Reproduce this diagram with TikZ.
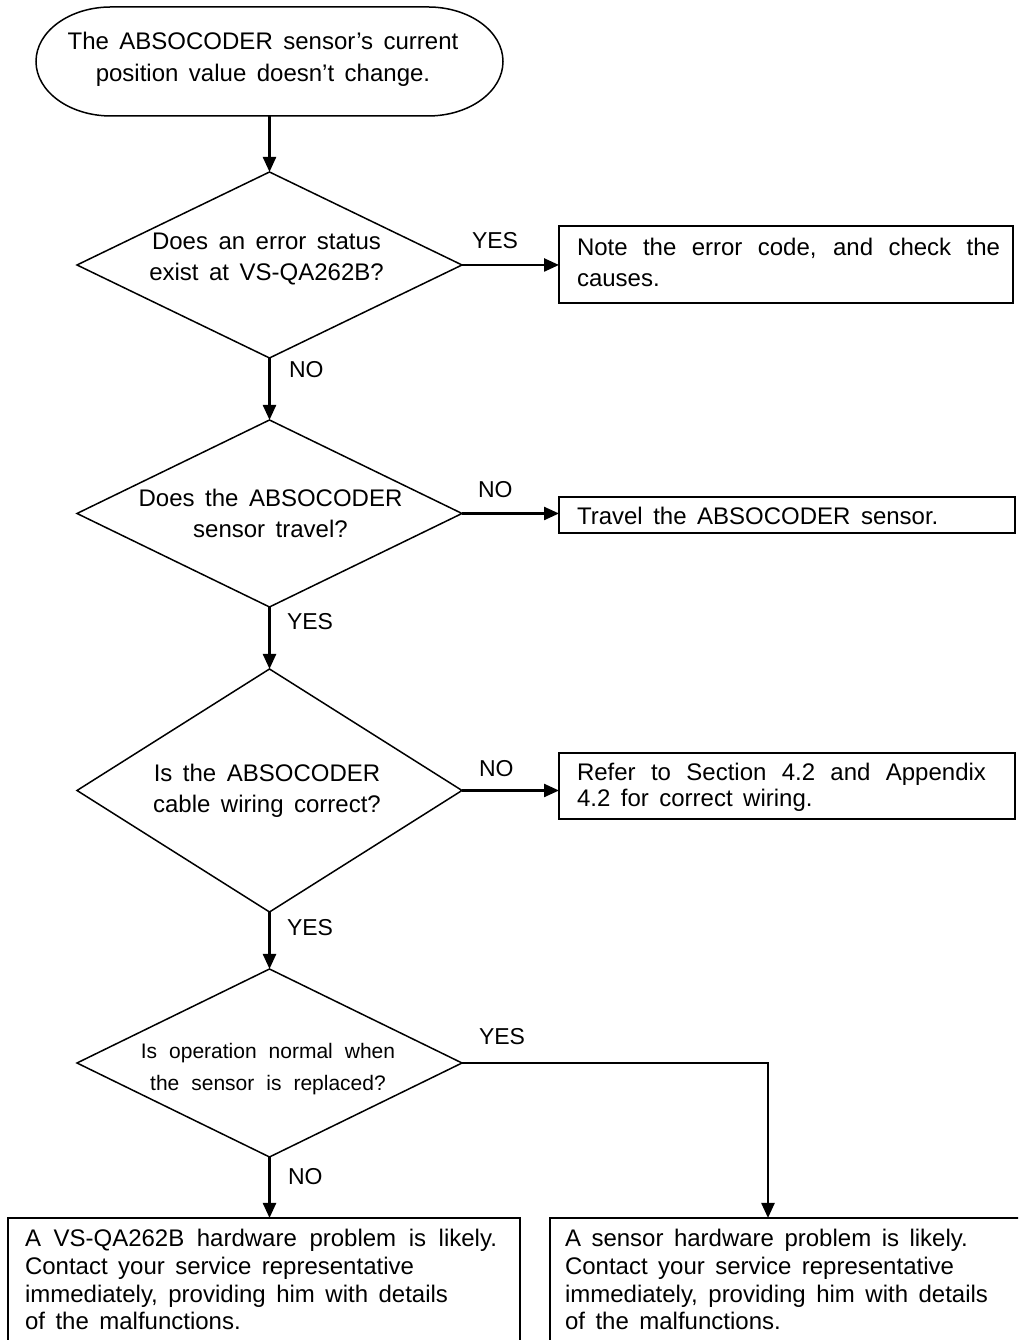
\documentclass[tikz,border=0pt]{standalone}
\usepackage{fontspec}
\setmainfont{Liberation Sans}
\usetikzlibrary{arrows.meta}
\newcommand\widesp{\spaceskip=10.5pt plus 8pt minus 3pt\relax}
\newcommand\narrowsp{\spaceskip=12pt plus 6pt minus 3pt\relax}
\tikzset{
  every node/.style={inner sep=0pt, outer sep=0pt},
  shapeline/.style={draw=black, line width=1.5pt},
  boxnode/.style={shapeline, rectangle, line width=1.8pt},
  holder/.style={draw=none, rectangle},
  conn/.style={line width=2.4pt, -{Triangle[length=15pt,width=13pt]}},
  ltxt/.style={font=\fontsize{24}{27}\selectfont\widesp, anchor=base west},
  ctxt/.style={font=\fontsize{24}{27}\selectfont\widesp, anchor=base},
  stxt/.style={font=\fontsize{21}{24}\selectfont\narrowsp, anchor=base},
  lbl/.style={font=\fontsize{23}{26}\selectfont, anchor=base west},
}
\begin{document}
\begin{tikzpicture}[x=1pt,y=1pt]
\path[use as bounding box] (0,0) rectangle (1018,1340);
\clip (0,0) rectangle (1018,1340);

% start terminal
\node[holder, minimum width=467pt, minimum height=109pt] (start) at (269.5,1278.5) {};
\draw[shapeline] ([xshift=75pt]start.north west) -- ([xshift=-75pt]start.north east)
  arc[start angle=90, end angle=-90, x radius=75pt, y radius=54.5pt]
  -- ([xshift=75pt]start.south west)
  arc[start angle=270, end angle=90, x radius=75pt, y radius=54.5pt] -- cycle;
\node[ctxt] (starttext) at (263,1290) {\vtop{\baselineskip=32pt\halign{\hfil#\hfil\cr The ABSOCODER sensor’s current\cr position value doesn’t change.\cr}}};

% decisions
\node[holder, minimum width=385pt, minimum height=186pt] (d1) at (269.5,1075) {};
\node[holder, minimum width=385pt, minimum height=187pt] (d2) at (269.5,826.5) {};
\node[holder, minimum width=385pt, minimum height=243pt] (d3) at (269.5,549.5) {};
\node[holder, minimum width=385pt, minimum height=188pt] (d4) at (269.5,277) {};
\foreach \d in {d1,d2,d3,d4}{
  \draw[shapeline] (\d.north) -- (\d.east) -- (\d.south) -- (\d.west) -- cycle;
}
\node[ctxt] (d1text) at (266.5,1090) {\vtop{\baselineskip=31pt\halign{\hfil#\hfil\cr Does an error status\cr exist at VS-QA262B?\cr}}};
\node[ctxt] (d2text) at (270.5,833) {\vtop{\baselineskip=31pt\halign{\hfil#\hfil\cr Does the ABSOCODER\cr sensor travel?\cr}}};
\node[ctxt] (d3text) at (267,558) {\vtop{\baselineskip=31pt\halign{\hfil#\hfil\cr Is the ABSOCODER\cr cable wiring correct?\cr}}};
\node[stxt] (d4text) at (268,281) {\vtop{\baselineskip=32pt\halign{\hfil#\hfil\cr Is operation normal when\cr the sensor is replaced?\cr}}};

% action boxes
\node[boxnode, minimum width=454pt, minimum height=77pt] (b1) at (786,1075.5) {};
\node[boxnode, minimum width=456pt, minimum height=36pt] (b2) at (787,825) {};
\node[boxnode, minimum width=456pt, minimum height=66pt] (b3) at (787,554) {};
\node[boxnode, minimum width=512pt, minimum height=142pt] (bl) at (264,51) {};
\node[boxnode, minimum width=490pt, minimum height=142pt] (br) at (795,51) {};

\node[ltxt] (b1text) at (577,1084) {\vtop{\baselineskip=31pt\hbox to 423pt{Note the error code, and check the}\hbox{causes.}}};
\node[ltxt] (b2text) at (577,815) {Travel the ABSOCODER sensor.};
\node[ltxt] (b3text) at (577,559) {\vtop{\baselineskip=26pt\hbox to 409pt{Refer to Section 4.2 and Appendix}\hbox{4.2 for correct wiring.}}};
\node[ltxt] (bltext) at (25,93) {\vtop{\baselineskip=27.6pt\hbox to 472pt{A VS-QA262B hardware problem is likely.}\hbox{Contact your service representative}\hbox{immediately, providing him with details}\hbox{of the malfunctions.}}};
\node[ltxt] (brtext) at (565,93) {\vtop{\baselineskip=27.6pt\hbox{A sensor hardware problem is likely.}\hbox{Contact your service representative}\hbox{immediately, providing him with details}\hbox{of the malfunctions.}}};

% connectors
\coordinate (corner) at (768,277);
\draw[conn] (start.south) -- (d1.north);
\draw[conn] (d1.east) -- (d1.east -| b1.west);
\draw[conn] (d1.south) -- (d2.north);
\draw[conn] (d2.east) -- (d2.east -| b2.west);
\draw[conn] (d2.south) -- (d3.north);
\draw[conn] (d3.east) -- (d3.east -| b3.west);
\draw[conn] (d3.south) -- (d4.north);
\draw[conn] (d4.south) -- (d4.south |- bl.north);
\draw[conn] (d4.east) -- (corner) -- (corner |- br.north);

% branch labels
\node[lbl] (yes1) at (472,1091) {YES};
\node[lbl] (no1) at (289,962) {NO};
\node[lbl] (no2) at (478,842) {NO};
\node[lbl] (yes2) at (287,710) {YES};
\node[lbl] (no3) at (479,563) {NO};
\node[lbl] (yes3) at (287,404) {YES};
\node[lbl] (yes4) at (479,295) {YES};
\node[lbl] (no4) at (288,155) {NO};
\end{tikzpicture}
\end{document}
